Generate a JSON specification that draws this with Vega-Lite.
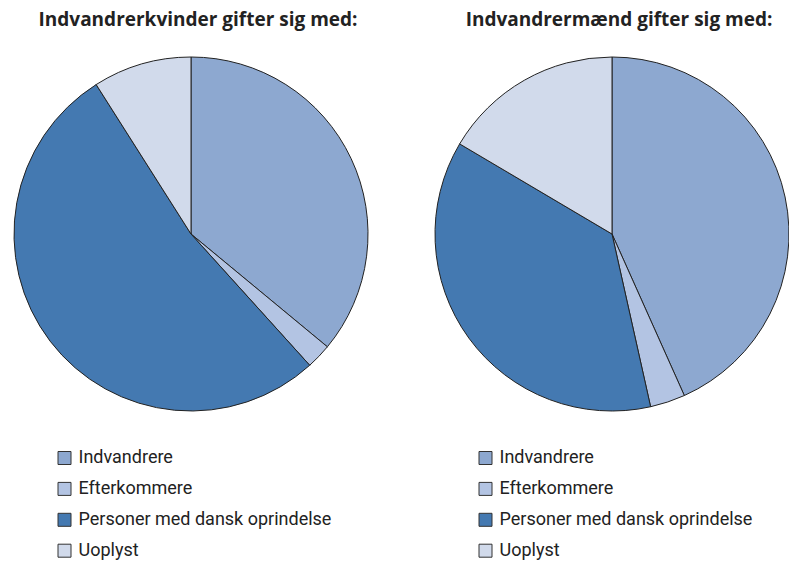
{
  "$schema": "https://vega.github.io/schema/vega-lite/v6.json",
  "autosize": {"type": "pad"},
  "padding": {"left": 13, "top": 10, "right": 0, "bottom": 0},
  "background": "white",
  "bounds": "flush",
  "spacing": 67,
  "config": {
    "view": {"stroke": null},
    "title": {"font": "Open Sans", "fontWeight": "bold", "fontSize": 19, "color": "#222", "anchor": "middle", "baseline": "alphabetic", "offset": 27, "frame": "group", "dx": 7},
    "legend": {
      "orient": "none", "legendX": 41.5, "legendY": 392, "padding": 0,
      "labelFont": "Roboto",
      "labelFontSize": 18, "labelColor": "#222", "labelLimit": 400,
      "symbolType": "square", "symbolSize": 169, "symbolStrokeColor": "#333", "symbolStrokeWidth": 1,
      "labelOffset": 5, "rowPadding": 12.9, "title": null
    }
  },
  "datasets": {
    "kvinder": [
      {"kategori": "Indvandrere", "ord": 1, "andel": 36.0},
      {"kategori": "Efterkommere", "ord": 2, "andel": 2.3},
      {"kategori": "Personer med dansk oprindelse", "ord": 3, "andel": 52.7},
      {"kategori": "Uoplyst", "ord": 4, "andel": 9.0}
    ],
    "maend": [
      {"kategori": "Indvandrere", "ord": 1, "andel": 43.3},
      {"kategori": "Efterkommere", "ord": 2, "andel": 3.2},
      {"kategori": "Personer med dansk oprindelse", "ord": 3, "andel": 37.0},
      {"kategori": "Uoplyst", "ord": 4, "andel": 16.5}
    ]
  },
  "resolve": {"scale": {"color": "independent", "theta": "independent"}, "legend": {"color": "independent"}},
  "hconcat": [
    {
      "title": "Indvandrerkvinder gifter sig med:",
      "data": {"name": "kvinder"},
      "width": 354, "height": 354,
      "mark": {"type": "arc", "stroke": "#222", "strokeWidth": 1, "strokeJoin": "round"},
      "encoding": {
        "theta": {"field": "andel", "type": "quantitative", "stack": true},
        "order": {"field": "ord", "type": "quantitative"},
        "color": {"field": "kategori", "type": "nominal", "sort": null,
          "scale": {"domain": ["Indvandrere", "Efterkommere", "Personer med dansk oprindelse", "Uoplyst"], "range": ["#8DA8D0", "#B3C4E3", "#4479B1", "#D1DAEB"]},
          "legend": {}}
      }
    },
    {
      "title": "Indvandrermænd gifter sig med:",
      "data": {"name": "maend"},
      "width": 354, "height": 354,
      "mark": {"type": "arc", "stroke": "#222", "strokeWidth": 1, "strokeJoin": "round"},
      "encoding": {
        "theta": {"field": "andel", "type": "quantitative", "stack": true},
        "order": {"field": "ord", "type": "quantitative"},
        "color": {"field": "kategori", "type": "nominal", "sort": null,
          "scale": {"domain": ["Indvandrere", "Efterkommere", "Personer med dansk oprindelse", "Uoplyst"], "range": ["#8DA8D0", "#B3C4E3", "#4479B1", "#D1DAEB"]},
          "legend": {}}
      }
    }
  ]
}
